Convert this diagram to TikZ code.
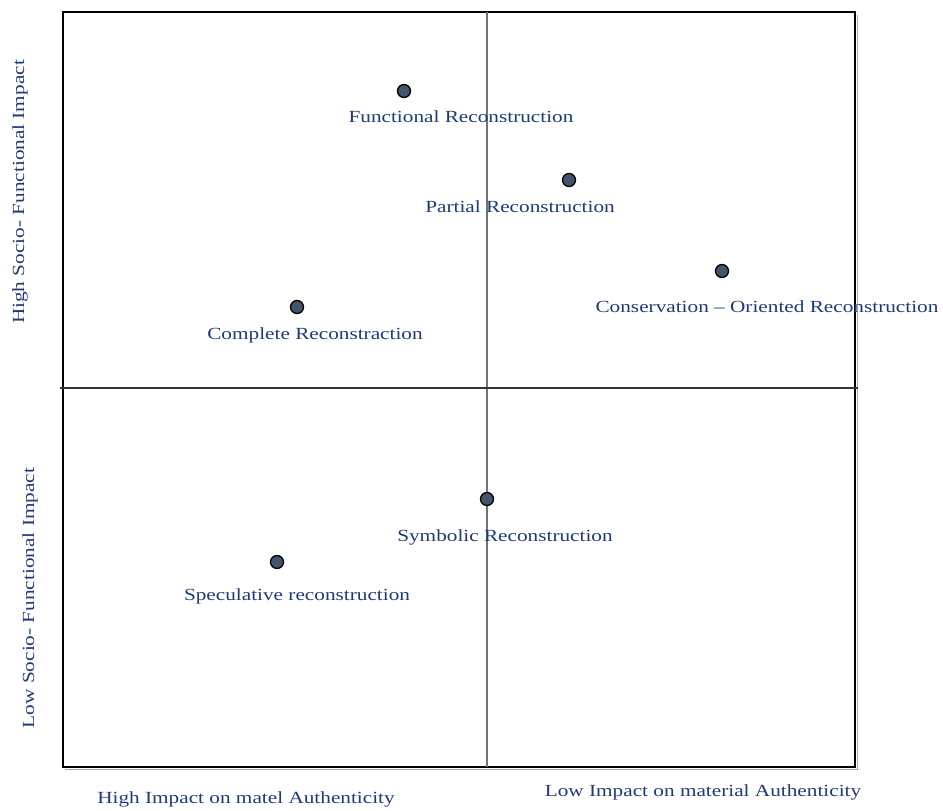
\documentclass[tikz,border=0pt]{standalone}
\usepackage{fontspec}
\setmainfont[FakeStretch=1.25]{Liberation Serif}
\definecolor{labelblue}{HTML}{1F3A78}
\definecolor{dotfill}{HTML}{44546A}
\begin{document}
\begin{tikzpicture}[x=1pt,y=-1pt,
  dot/.style={circle,draw=black,line width=1.3pt,fill=dotfill,inner sep=0pt,minimum size=13pt},
  lbl/.style={text=labelblue,font=\fontsize{17}{19}\selectfont,inner sep=0pt},
  axislbl/.style={text=labelblue,font=\fontsize{17}{19}\selectfont,inner sep=0pt}]
\useasboundingbox (0,0) rectangle (943,811);
% quadrant frame with a soft shadow on the lower right, and the axes
\draw[black!35,line width=1pt] (857,15) -- (857,769) -- (65,769);
\draw[black,line width=1.6pt] (63,12) rectangle (855,767);
\draw[black!55,line width=1.6pt] (487,12) -- (487,767);
\draw[black!80,line width=1.3pt] (60,388) -- (858,388);
% positioned approaches
\node[dot] (fr) at (404,91) {};
\node[dot] (pr) at (569,180) {};
\node[dot] (co) at (722,271) {};
\node[dot] (cr) at (297,307) {};
\node[dot] (sy) at (487,499) {};
\node[dot] (sp) at (277,562) {};
\node[lbl] (frl) at (461,117) {Functional Reconstruction};
\node[lbl] (prl) at (520,207) {Partial Reconstruction};
\node[lbl] (col) at (767,307) {Conservation -- Oriented Reconstruction};
\node[lbl] (crl) at (315,335) {Complete Reconstraction};
\node[lbl] (syl) at (505,537) {Symbolic Reconstruction};
\node[lbl] (spl) at (297,596) {Speculative reconstruction};
% axis captions
\node[axislbl,rotate=90] (hs) at (20,192) {High Socio- Functional Impact};
\node[axislbl,rotate=90] (ls) at (30,598) {Low Socio- Functional Impact};
\node[axislbl] (hm) at (246,799) {High Impact on matel Authenticity};
\node[axislbl] (lm) at (703,792) {Low Impact on material Authenticity};
\end{tikzpicture}
\end{document}
